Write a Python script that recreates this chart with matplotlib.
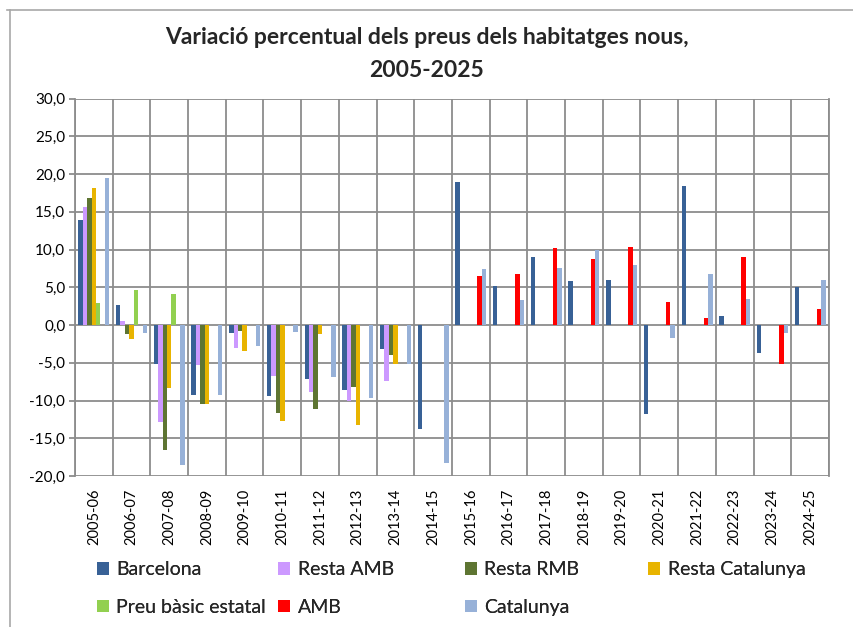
import numpy as np
import matplotlib
matplotlib.use('Agg')
import matplotlib.pyplot as plt
from matplotlib.lines import Line2D

plt.rcParams['font.family'] = ['Lato', 'DejaVu Sans']

periods = ['2005-06', '2006-07', '2007-08', '2008-09', '2009-10', '2010-11',
           '2011-12', '2012-13', '2013-14', '2014-15', '2015-16', '2016-17',
           '2017-18', '2018-19', '2019-20', '2020-21', '2021-22', '2022-23',
           '2023-24', '2024-25']

nan = np.nan
barcelona = [13.9, 2.7, -5.1, -9.3, -1.0, -9.4, -7.2, -8.6, -3.2, -13.8,
             18.9, 5.2, 9.0, 5.8, 6.0, -11.8, 18.4, 1.2, -3.7, 5.1]
resta_amb = [15.7, 0.5, -12.9, -5.3, -3.1, -6.8, -8.9, -10.0, -7.4, nan,
             nan, nan, nan, nan, nan, nan, nan, nan, nan, nan]
resta_rmb = [16.8, -1.2, -16.5, -10.4, -0.8, -11.6, -11.1, -8.2, -4.0, nan,
             nan, nan, nan, nan, nan, nan, nan, nan, nan, nan]
resta_cat = [18.1, -1.9, -8.3, -10.4, -3.5, -12.7, -1.2, -13.3, -5.1, nan,
             nan, nan, nan, nan, nan, nan, nan, nan, nan, nan]
preu_basic = [2.9, 4.7, 4.1, nan, nan, nan, nan, nan, nan, nan,
              nan, nan, nan, nan, nan, nan, nan, nan, nan, nan]
amb = [nan, nan, nan, nan, nan, nan, nan, nan, nan, nan,
       6.5, 6.8, 10.2, 8.8, 10.3, 3.0, 1.0, 9.0, -5.1, 2.1]
catalunya = [19.5, -1.0, -18.6, -9.3, -2.8, -0.9, -6.9, -9.7, -5.2, -18.3,
             7.4, 3.3, 7.5, 10.0, 7.9, -1.7, 6.7, 3.4, -1.0, 6.0]

series = [
    ('Barcelona', barcelona, '#386196'),
    ('Resta AMB', resta_amb, '#CC99FF'),
    ('Resta RMB', resta_rmb, '#5E7532'),
    ('Resta Catalunya', resta_cat, '#E8B400'),
    ('Preu bàsic estatal', preu_basic, '#92D050'),
    ('AMB', amb, '#FF0000'),
    ('Catalunya', catalunya, '#97B1D8'),
]

fig = plt.figure(figsize=(8.54, 6.27), dpi=100)
ax = fig.add_axes([0.0878, 0.2408, 0.8829, 0.6019])

# chart border (only top and left edges are visible in the crop)
fig.add_artist(Line2D([0.008, 1.0], [0.984, 0.984], transform=fig.transFigure,
                      color='#A8A8A8', linewidth=1.2))
fig.add_artist(Line2D([0.0122, 0.0122], [0.0, 0.984], transform=fig.transFigure,
                      color='#A8A8A8', linewidth=1.2))

n = len(series)
w = 1.0 / (n + 1.5)
x = np.arange(len(periods)) + 0.5
handles = []
for j, (name, vals, col) in enumerate(series):
    b = ax.bar(x + (j - (n - 1) / 2) * w, vals, width=w, color=col, label=name,
               linewidth=0, zorder=3)
    handles.append(b)

ax.set_xlim(0, len(periods))
ax.set_ylim(-20, 30)
ax.set_yticks(np.arange(-20, 31, 5))
ax.set_yticklabels([f'{v:.1f}'.replace('.', ',') for v in np.arange(-20, 31, 5)])
ax.set_xticks(x)
ax.set_xticklabels(periods, rotation=90)
ax.set_xticks(np.arange(0, len(periods) + 1), minor=True)

ax.grid(True, which='major', axis='y', color='#8C8C8C', linewidth=1.3, zorder=0)
ax.grid(True, which='minor', axis='x', color='#8C8C8C', linewidth=1.3, zorder=0)
ax.grid(False, which='major', axis='x')
for s in ax.spines.values():
    s.set_visible(False)
for side in ('left', 'right'):
    ax.spines[side].set_visible(True)
    ax.spines[side].set_color('#8C8C8C')
    ax.spines[side].set_linewidth(1.3)

ax.tick_params(axis='y', which='major', length=4, color='#8C8C8C', width=1.3,
               labelsize=11, pad=3, labelcolor='#000000')
ax.tick_params(axis='x', which='major', length=0, labelsize=10.5, pad=9)
ax.tick_params(axis='x', which='minor', length=0)

fig.text(0.5, 0.94, 'Variació percentual dels preus dels habitatges nous,',
         ha='center', va='center', fontsize=16.5, fontweight='bold', color='#262626')
fig.text(0.5, 0.888, '2005-2025', ha='center', va='center', fontsize=16.5,
         fontweight='bold', color='#262626')

# legend laid out row by row like Excel: one small legend per column
columns = [(0.113, [0, 4]), (0.326, [1, 5]), (0.544, [2, 6]), (0.759, [3])]
for xpos, idx in columns:
    leg = fig.legend(handles=[handles[i] for i in idx], loc='upper left',
                     bbox_to_anchor=(xpos, 0.105), ncol=1, frameon=False,
                     fontsize=14, handlelength=0.62, handleheight=0.62,
                     handletextpad=0.4, labelspacing=1.07,
                     labelcolor='#262626', borderaxespad=0, borderpad=0)
    fig.add_artist(leg)

fig.savefig('out.png', dpi=100)
